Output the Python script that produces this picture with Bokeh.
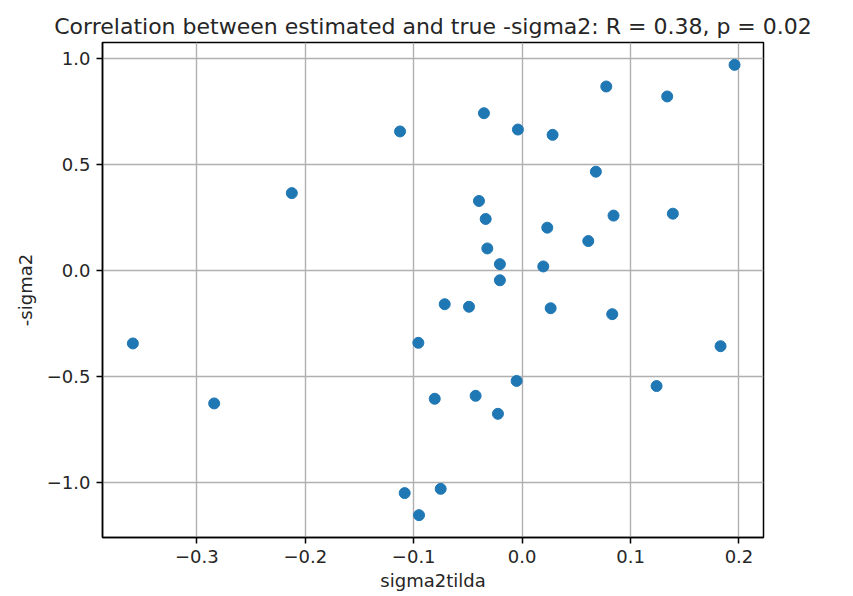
from bokeh.plotting import figure
from bokeh.models import Range1d, FixedTicker
from bokeh.embed import file_html
from bokeh.resources import INLINE

# Data
sigma2tilda = [-0.1126, -0.2124, 0.1959, 0.0776, 0.1338, -0.0352, -0.0039, 0.0281,
               0.0680, -0.0398, -0.0336, 0.0843, 0.1390, 0.0232, 0.0610, -0.0321,
               -0.0205, 0.0195, -0.0205, -0.3590, -0.2840, -0.0957, -0.1083, -0.0951,
               -0.0714, -0.0490, 0.0263, 0.0831, 0.1830, -0.0051, 0.1240, -0.0806,
               -0.0429, -0.0223, -0.0751]
neg_sigma2 = [0.657, 0.366, 0.971, 0.869, 0.822, 0.743, 0.666, 0.641,
              0.467, 0.329, 0.244, 0.260, 0.269, 0.203, 0.140, 0.105,
              0.031, 0.020, -0.045, -0.343, -0.626, -0.340, -1.049, -1.153,
              -0.158, -0.170, -0.177, -0.205, -0.356, -0.520, -0.544, -0.604,
              -0.590, -0.675, -1.029]

x_ticks = [-0.3, -0.2, -0.1, 0.0, 0.1, 0.2]
x_tick_labels = ["\u22120.3", "\u22120.2", "\u22120.1", "0.0", "0.1", "0.2"]
y_ticks = [-1.0, -0.5, 0.0, 0.5, 1.0]
y_tick_labels = ["\u22121.0", "\u22120.5", "0.0", "0.5", "1.0"]

title_text = "Correlation between estimated and true -sigma2: R = 0.38, p = 0.02"
x_label = "sigma2tilda"
y_label = "-sigma2"

FONT = "DejaVu Sans"
TEXT = "#262626"

p = figure(width=853, height=596, output_backend="svg", toolbar_location=None,
           x_range=Range1d(-0.387, 0.2226), y_range=Range1d(-1.2585, 1.0765),
           min_border_left=102, min_border_right=90, min_border_top=42,
           min_border_bottom=59, title=title_text)

p.title.text_font = FONT
p.title.text_font_size = "22px"
p.title.text_font_style = "normal"
p.title.text_color = TEXT
p.title.align = "center"
p.title.standoff = 8

p.scatter(sigma2tilda, neg_sigma2, size=11, color="#1f77b4", line_color="#1f77b4")

p.xaxis.ticker = FixedTicker(ticks=x_ticks)
p.yaxis.ticker = FixedTicker(ticks=y_ticks)
p.xaxis.major_label_overrides = {t: l for t, l in zip(x_ticks, x_tick_labels)}
p.yaxis.major_label_overrides = {t: l for t, l in zip(y_ticks, y_tick_labels)}
p.xaxis.axis_label = x_label
p.yaxis.axis_label = y_label

for ax in (p.xaxis, p.yaxis):
    ax.axis_line_color = "#000000"
    ax.axis_line_width = 1.5
    ax.major_tick_line_color = "#000000"
    ax.major_tick_line_width = 1.5
    ax.major_tick_out = 6
    ax.major_tick_in = 0
    ax.minor_tick_line_color = None
    ax.major_label_text_font = FONT
    ax.major_label_text_font_size = "18px"
    ax.major_label_text_color = TEXT
    ax.major_label_standoff = 6
    ax.axis_label_text_font = FONT
    ax.axis_label_text_font_size = "18px"
    ax.axis_label_text_font_style = "normal"
    ax.axis_label_text_color = TEXT

p.xaxis.axis_label_standoff = 4
p.yaxis.axis_label_standoff = 8

p.grid.grid_line_color = "#b0b0b0"
p.grid.grid_line_width = 1.4
p.outline_line_color = "#000000"
p.outline_line_width = 1.5
p.outline_line_alpha = 1.0
p.background_fill_color = "white"
p.border_fill_color = "white"

open("out.html", "w").write(file_html(p, INLINE))
